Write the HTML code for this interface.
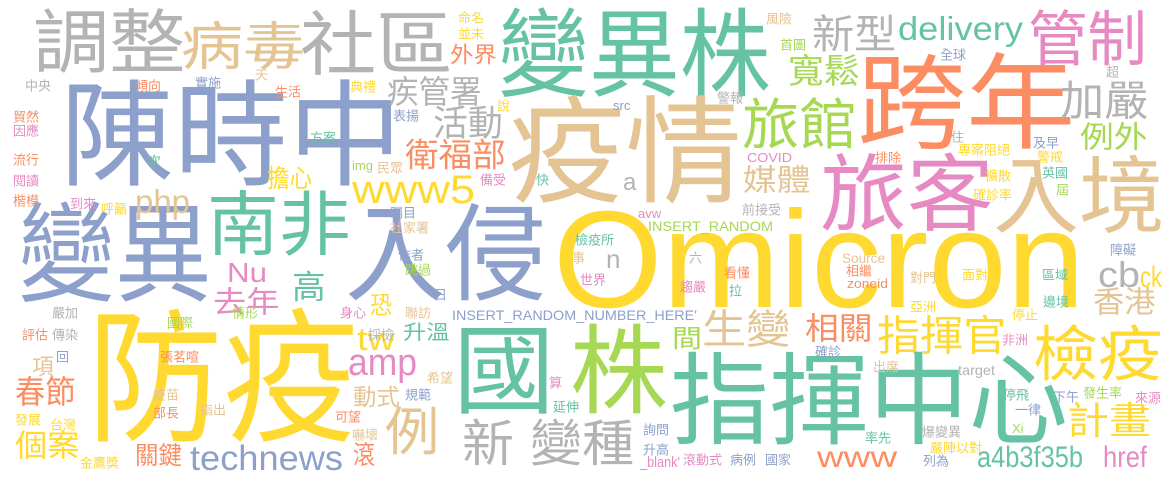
<!DOCTYPE html>
<html><head><meta charset="utf-8"><style>
html,body{margin:0;padding:0;background:#fff;}
svg{display:block;}
text{font-family:"Liberation Sans","Noto Sans CJK TC",sans-serif;}
</style></head>
<body>
<svg id="cloud" width="1175" height="482" viewBox="0 0 1175 482" xmlns="http://www.w3.org/2000/svg">
<rect width="1175" height="482" fill="#ffffff"/>
</svg>
<script>
const G='#66c2a5',O='#fc8d62',B='#8da0cb',P='#e78ac3',L='#a6d854',Y='#ffd92f',T='#e5c494',R='#b3b3b3';
// word, left x, center y (CJK) or baseline (latin), font size, color, ink width, latin flag
const words=[
['調整',33,43,70,R,147,0],['病毒',181,48,52,T,120,0],['社區',300,45,70,R,147,0],
['陳時中',60,137,115,B,333,0],['疾管署',387,92,32,R,92,0],['活動',433,123,36,R,67,0],
['衛福部',405,155,33,O,98,0],['外界',450,55,22,O,45,0],['變異株',498,56,96,G,265,0],
['疫情',508,153,116,T,225,0],['旅館',742,125,55,L,110,0],['媒體',743,181,30,T,65,0],
['跨年',857,105,104,O,210,0],['新型',812,35,40,R,81,0],['管制',1028,40,60,P,114,0],
['寬鬆',788,72,34,L,69,0],['加嚴',1060,101,42,R,85,0],['例外',1080,138,30,L,65,0],
['旅客',820,195,84,P,167,0],['入境',993,197,84,T,165,0],['香港',1093,303,30,T,60,0],
['相關',805,329,31,O,65,0],['指揮官',877,336,42,Y,126,0],['檢疫',1033,355,60,Y,125,0],
['計畫',1067,422,38,Y,81,0],['指揮中心',670,402,100,G,390,0],['國',453,372,97,G,94,0],
['株',570,372,97,L,90,0],['生變',702,330,40,T,85,0],['間',672,339,25,L,28,0],
['新',462,444,50,R,48,0],['變種',530,444,50,R,100,0],['例',385,433,52,T,50,0],
['防疫',87,380,145,Y,260,0],['變異',18,255,108,B,185,0],['南非',207,225,70,G,138,0],
['入侵',345,256,106,B,192,0],['擔心',267,179,25,Y,43,0],['高',292,287,33,G,31,0],
['去年',213,303,30,P,64,0],['恐',370,306,24,Y,20,0],['升溫',403,333,20,G,45,0],
['動式',353,397,23,T,45,0],['春節',15,392,32,O,58,0],['個案',15,446,31,Y,62,0],
['關鍵',135,456,25,O,45,0],['滾',353,455,26,O,20,0],['項',32,367,22,T,20,0],
['Omicron',553,307,138,Y,532,1],['delivery',898,40,33,G,125,1],['www5',352,203,40,Y,123,1],
['php',135,213,33,T,55,1],['Nu',227,282,28,P,40,1],['tw',357,350,32,Y,38,1],
['amp',348,375,38,P,69,1],['technews',190,470,35,B,153,1],['cb',1098,287,36,R,42,1],
['ck',1140,287,30,Y,22,1],['www',817,467,30,O,80,1],['a4b3f35b',977,467,30,G,106,1],
['href',1103,467,30,P,44,1],['n',606,268,26,R,0,1],['a',623,190,24,R,0,1],
['INSERT_RANDOM_NUMBER_HERE\'',452,320,14,B,245,1],['INSERT_RANDOM',648,231,14,L,125,1],
['src',613,110,13,B,0,1],['COVID',747,162,13,P,45,1],['avw',638,218,13,P,0,1],
['img',352,170,13,L,0,1],['Source',842,263,14,T,43,1],['zoneid',847,288,13,O,41,1],
['_blank\'',640,467,15,P,40,1],['target',958,375,14,R,37,1],['Xi',1012,433,13,L,0,1],
['中央',25,86,13,R,0,0],['傾向',135,86,13,O,0,0],['實施',195,83,13,B,0,0],['天',255,75,13,T,0,0],
['生活',275,92,13,O,0,0],['典禮',350,87,13,Y,0,0],['貿然',13,117,13,O,0,0],['因應',13,131,13,P,0,0],
['表揚',393,116,13,B,0,0],['方案',310,138,13,G,0,0],['流行',13,160,13,O,0,0],['次',148,161,13,G,0,0],
['民眾',377,168,13,T,0,0],['閱讀',13,181,13,P,0,0],['楷模',13,201,13,O,0,0],['到來',70,204,13,P,0,0],
['呼籲',101,209,13,Y,0,0],['矚目',390,213,13,B,0,0],['社家署',390,228,13,T,0,0],['說',497,106,13,Y,0,0],
['命名',458,18,13,Y,0,0],['並未',458,34,13,Y,0,0],['風險',766,19,13,T,0,0],['首圖',780,45,13,L,0,0],
['警報',717,98,13,R,0,0],['備受',480,180,13,P,0,0],['快',536,180,13,G,0,0],['前接受',742,210,13,R,0,0],
['檢疫所',575,240,13,G,0,0],['作者',398,255,13,B,0,0],['跳過',405,270,13,L,0,0],['日',434,295,13,B,0,0],
['嚴加',52,313,13,R,0,0],['情形',232,313,13,L,0,0],['身心',340,313,13,P,0,0],['聯訪',405,313,13,T,0,0],
['國際',167,323,13,L,0,0],['評估',22,335,13,O,0,0],['傳染',52,335,13,R,0,0],['採檢',368,335,13,R,0,0],
['回',56,357,13,B,0,0],['張茗喧',160,357,13,O,0,0],['希望',427,378,13,T,0,0],['疫苗',153,395,13,T,0,0],
['規範',405,395,13,B,0,0],['部長',153,413,13,O,0,0],['指出',200,410,13,T,0,0],['發展',15,420,13,Y,0,0],
['台灣',50,425,13,Y,0,0],['可望',335,417,13,O,0,0],['嚇壞',352,435,13,T,0,0],['金鷹獎',80,463,13,Y,0,0],
['事',572,258,13,T,0,0],['六',689,258,13,R,0,0],['世界',580,280,13,P,0,0],['趨嚴',680,287,13,P,0,0],
['看懂',724,273,13,O,0,0],['拉',729,291,13,G,0,0],['相繼',846,271,13,O,0,0],['確診',815,352,13,B,0,0],
['算',549,383,13,P,0,0],['延伸',553,407,13,G,0,0],['詢問',643,430,13,B,0,0],['升高',643,450,13,B,0,0],
['滾動式',683,460,13,P,0,0],['病例',730,460,13,B,0,0],['國家',765,460,13,B,0,0],
['全球',940,55,13,B,0,0],['超',1106,72,13,R,0,0],['住',951,137,13,R,0,0],['專案阻絕',958,150,13,Y,0,0],
['及早',1033,143,13,B,0,0],['警戒',1037,157,13,Y,0,0],['排除',875,158,13,O,0,0],['擴散',985,176,13,Y,0,0],
['英國',1042,173,13,G,0,0],['屆',1056,190,13,L,0,0],['確診率',973,195,13,Y,0,0],['障礙',1110,250,13,B,0,0],
['對門',910,278,13,T,0,0],['面對',962,275,13,Y,0,0],['區域',1042,275,13,G,0,0],['亞洲',910,307,13,Y,0,0],
['邊境',1043,302,13,G,0,0],['停止',1012,315,13,Y,0,0],['非洲',1002,340,13,P,0,0],['出席',873,367,13,T,0,0],
['停飛',1003,395,13,G,0,0],['下午',1053,397,13,B,0,0],['發生率',1083,393,13,L,0,0],['來源',1135,398,13,P,0,0],
['一律',1015,410,13,B,0,0],['爆變異',922,432,13,R,0,0],['率先',865,438,13,G,0,0],['嚴陣以對',930,448,13,Y,0,0],
['列為',923,461,13,B,0,0]
];
const svg=document.getElementById('cloud');
for(const w of words){
  const t=document.createElementNS('http://www.w3.org/2000/svg','text');
  
  
  t.setAttribute('x', w[1]);
  t.setAttribute('y', w[2]);
  t.setAttribute('font-size', w[3]);
  t.setAttribute('fill', w[4]);
  if(!w[6]) t.setAttribute('dominant-baseline','central');
  if(w[5]>0){
    const extra = w[6] ? 0 : w[3]*0.08;
    t.setAttribute('textLength', w[5]+extra);
    t.setAttribute('lengthAdjust','spacingAndGlyphs');
  }
  t.textContent=w[0];
  svg.appendChild(t);
}
</script>
</body></html>
